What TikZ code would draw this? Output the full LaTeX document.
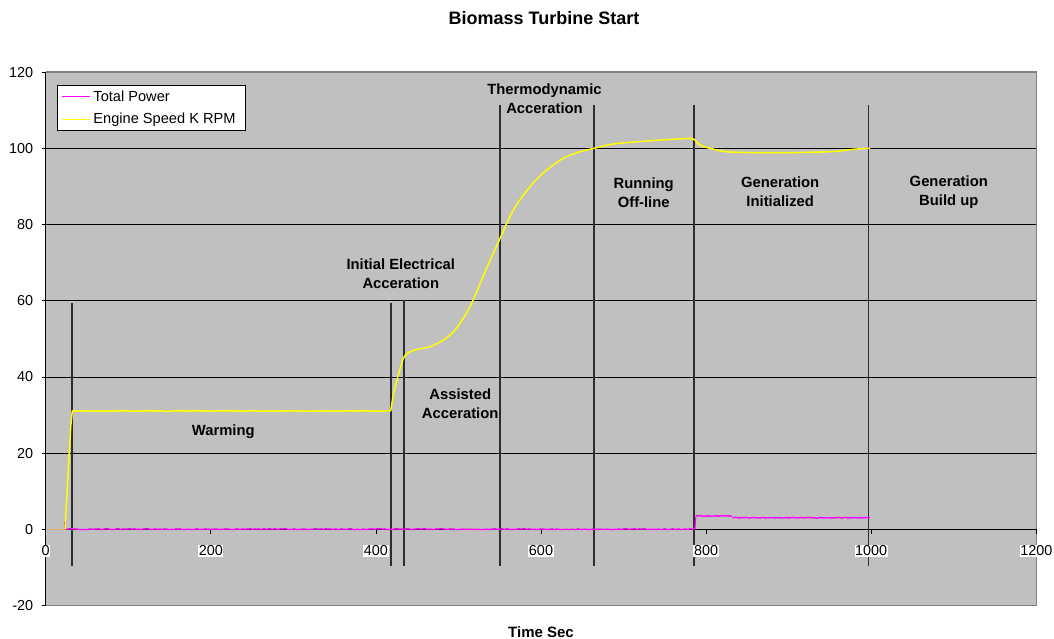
\documentclass[tikz,border=0pt]{standalone}
\usepackage{fontspec}
\setmainfont{Liberation Sans}
\definecolor{plotbg}{RGB}{192,192,192}
\definecolor{plotborder}{RGB}{128,128,128}
\definecolor{pwr}{RGB}{255,0,255}
\definecolor{spd}{RGB}{255,255,0}
\definecolor{phase}{RGB}{45,45,45}
\definecolor{mix}{RGB}{235,170,110}
\begin{document}
\begin{tikzpicture}[x=1bp,y=-1bp,
  lbl/.style={font=\fontsize{14.8bp}{19bp}\selectfont\bfseries, align=center, inner sep=0pt},
  ticklbl/.style={font=\fontsize{14.4bp}{17bp}\selectfont, inner sep=0.6bp},
  xlbl/.style={ticklbl, fill=white},
  ylbl/.style={ticklbl, anchor=east},
  grid/.style={black, line width=0.8bp},
  phaseline/.style={phase, line width=1.8bp},
  pwrline/.style={pwr, line width=1.3bp},
  spdline/.style={spd, line width=1.5bp, line join=round},
  legtext/.style={font=\fontsize{14.6bp}{17bp}\selectfont, anchor=west, inner sep=0pt}]
\useasboundingbox (0,0) rectangle (1054,639);
% plot area
\fill[plotbg] (45.7,72.1) rectangle (1036.3,605.5);
\draw[plotborder, line width=1.2bp] (45.7,72.1) -- (1036.3,72.1) -- (1036.3,605.5) -- (45.7,605.5);
% grid lines
\foreach \k in {1,...,5}{
  \coordinate (gl\k) at (45.7,{529.3-76.2*\k});
  \coordinate (gr\k) at (1036.3,{529.3-76.2*\k});
  \draw[grid] (gl\k) -- (gr\k);
}
% axes
\coordinate (ax0) at (45.7,529.3);
\coordinate (ax1) at (1036.3,529.3);
\coordinate (ay0) at (45.7,72.1);
\coordinate (ay1) at (45.7,605.5);
\draw[black, line width=1bp] (ax0) -- (ax1);
\draw[black, line width=1bp] (ay0) -- (ay1);
\foreach \k in {-1,...,6}{
  \draw[black, line width=0.8bp] (41.5,{529.3-76.2*\k}) -- (45.7,{529.3-76.2*\k});
}
\foreach \k in {1,...,6}{
  \draw[black, line width=0.8bp] ({45.7+165.1*\k},529.3) -- ({45.7+165.1*\k},533.5);
}
% y labels
\node[ylbl] (y120) at (34,72.1) {120};
\node[ylbl] (y100) at (34,148.3) {100};
\node[ylbl] (y80) at (34,224.5) {80};
\node[ylbl] (y60) at (34,300.7) {60};
\node[ylbl] (y40) at (34,376.9) {40};
\node[ylbl] (y20) at (34,453.1) {20};
\node[ylbl] (y0) at (34,529.3) {0};
\node[ylbl] (ym20) at (34,605.5) {-20};
% phase lines
\coordinate (p1t) at (71.7,303); \coordinate (p1b) at (71.7,566);
\coordinate (p2t) at (390.7,302.7); \coordinate (p2b) at (390.7,566);
\coordinate (p3t) at (403.7,300.3); \coordinate (p3b) at (403.7,566);
\coordinate (p4t) at (499.7,105); \coordinate (p4b) at (499.7,566);
\coordinate (p5t) at (594.3,105); \coordinate (p5b) at (594.3,566);
\coordinate (p6t) at (694.3,105); \coordinate (p6b) at (694.3,566);
\coordinate (p7t) at (868.5,105); \coordinate (p7b) at (868.5,566);
\foreach \i in {1,...,7}{ \draw[phaseline] (p\i t) -- (p\i b); }
% x labels
\node[xlbl] (x0) at (45.7,551) {0};
\node[xlbl] (x200) at (210.8,551) {200};
\node[xlbl] (x400) at (375.9,551) {400};
\node[xlbl] (x600) at (541,551) {600};
\node[xlbl] (x800) at (706.1,551) {800};
\node[xlbl] (x1000) at (871.2,551) {1000};
\node[xlbl] (x1200) at (1036.3,551) {1200};
% total power (noisy)
\pgfmathsetseed{7}
\draw[pwrline] (65,529.3) -- (64.5,521.8) -- (65.5,529.3);
\draw[pwrline] plot[domain=65.5:694.3, samples=320] (\x,{529.6-0.9*rnd});
\draw[pwrline] (694.8,529.3) -- (695.7,517);
\draw[pwrline] plot[domain=695.7:731.7, samples=40] (\x,{516.4-0.9*rnd});
\draw[pwrline] plot[domain=732.5:870, samples=140] (\x,{518.2-0.9*rnd});
% engine speed
\draw[mix, line width=1.5bp] (45.7,529.3) -- (65,529.3);
\draw[spdline] (65,529.3) -- (70.7,426.7) -- (72.3,411)
  -- plot[domain=72.3:390.7, samples=120] (\x,{411.3-0.6*rnd});
\draw[spdline] plot[smooth, tension=0.5] coordinates {
  (390.7,411) (393.5,394) (397.7,377) (403.3,358.5) (408.3,352.7) (416.7,349.5)
  (430,346.7) (443.3,340) (455,330) (470,306.7) (486.7,268) (499.3,240)
  (513.3,210) (530,186.7) (546.7,170) (563.3,158.3) (580,151.7) (594.3,148.3)
  (613.3,144) (646.7,141) (683.3,138.7) (693.3,139) (700,145) (710,148.3)
  (730,152) (780,152.7) (830,151.7) (853.3,149.3) (870,148.3)};
% phase labels
\node[lbl] (thermo) at (544.5,99) {Thermodynamic\\Acceration};
\node[lbl] (initel) at (400.8,273.7) {Initial Electrical\\Acceration};
\node[lbl] (assist) at (460.2,404) {Assisted\\Acceration};
\node[lbl] (warm) at (223.3,431.7) {Warming};
\node[lbl] (run) at (643.7,192.8) {Running\\Off-line};
\node[lbl] (geninit) at (780.2,192.2) {Generation\\Initialized};
\node[lbl] (genbuild) at (948.8,192.2) {Generation\\Build up};
% legend
\node[draw=black, line width=0.8bp, fill=white, minimum width=188.4bp, minimum height=45bp, inner sep=0pt] (legend) at (151.5,107.5) {};
\coordinate (lp1) at (62,96.7); \coordinate (lp2) at (90,96.7);
\coordinate (ls1) at (62,119.3); \coordinate (ls2) at (90,119.3);
\draw[pwrline] (lp1) -- (lp2);
\draw[spdline] (ls1) -- (ls2);
\node[legtext] (legp) at (93.3,96.7) {Total Power};
\node[legtext] (legs) at (93.3,119.3) {Engine Speed K RPM};
% titles
\node[font=\fontsize{18bp}{21bp}\selectfont\bfseries, inner sep=0pt] (title) at (544,18.5) {Biomass Turbine Start};
\node[font=\fontsize{15bp}{18bp}\selectfont\bfseries, inner sep=0pt] (xtitle) at (541,631.7) {Time Sec};
\end{tikzpicture}
\end{document}
